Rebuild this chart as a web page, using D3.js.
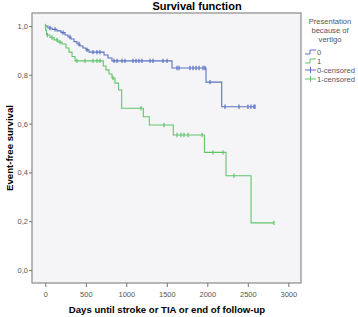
<!DOCTYPE html>
<html>
  <head>
    <title>Survival function</title>
    <style>
      body, html { margin: 0; padding: 0; background: #fff; }
      svg { display: block; font-family: Arial, "Liberation Sans", sans-serif; }
    </style>
  </head>
  <body>
    <svg id="svg" width="358" height="317"></svg>
    <script src="https://cdn.jsdelivr.net/npm/d3@7"></script>
    <script>
      // group 0 (no vertigo): event times (days) and survival after each step
      const blueTimes = [0, 33, 83, 144, 194, 243, 280, 317, 354, 391, 428, 465, 502, 540, 725, 774, 823, 1564, 1984, 2178];
      const blueSurv = [1.0, 0.992, 0.986, 0.98, 0.973, 0.963, 0.955, 0.947, 0.936, 0.926, 0.918, 0.91, 0.902, 0.893, 0.881, 0.869, 0.857, 0.828, 0.770, 0.669];
      const blueEnd = 2589;
      const blueCensored = [58, 120, 219, 305, 416, 515, 589, 638, 675, 848, 886, 947, 984, 1083, 1120, 1157, 1194, 1293, 1330, 1453, 1503, 1626, 1651, 1786, 1824, 1861, 1898, 1947, 1972, 2033, 2219, 2391, 2502, 2539, 2576, 2589];

      // group 1 (vertigo)
      const greenTimes = [0, 6, 15, 58, 107, 157, 206, 256, 293, 330, 367, 716, 749, 786, 823, 860, 904, 943, 1210, 1284, 1580, 1965, 2231, 2540];
      const greenSurv = [1.0, 0.982, 0.963, 0.953, 0.943, 0.934, 0.926, 0.91, 0.893, 0.875, 0.857, 0.836, 0.82, 0.803, 0.787, 0.766, 0.738, 0.663, 0.628, 0.594, 0.553, 0.482, 0.386, 0.193];
      const greenEnd = 2823;
      const greenCensored = [2, 27, 83, 144, 181, 391, 490, 589, 638, 675, 836, 1181, 1465, 1626, 1675, 1712, 1762, 1935, 2070, 2194, 2330, 2823];

      const xTicks = [0, 500, 1000, 1500, 2000, 2500, 3000];
      const yTicks = [0, 0.2, 0.4, 0.6, 0.8, 1.0];
      const legendTitle = ['Presentation', 'because of', 'vertigo'];
      const legendItems = ['0', '1', '0-censored', '1-censored'];

      const blue = '#5a72c2';
      const green = '#62c46c';

      const svg = d3.select('#svg');
      const frame = { left: 32, right: 301, top: 13, bottom: 283 };

      const x = d3.scaleLinear().domain([0, 3000]).range([45.3, 288.3]);
      const y = d3.scaleLinear().domain([0, 1]).range([270, 26]);

      // plot background + frame
      svg.append('rect')
        .attr('x', frame.left).attr('y', frame.top)
        .attr('width', frame.right - frame.left).attr('height', frame.bottom - frame.top)
        .attr('fill', '#f5f5f8')
        .attr('stroke', '#8a8a8a')
        .attr('stroke-width', 1.2);

      // axes
      const xAxis = d3.axisBottom(x).tickValues(xTicks).tickSize(4).tickFormat(d3.format('d'));
      svg.append('g')
        .attr('transform', `translate(0,${frame.bottom})`)
        .call(xAxis)
        .call(g => g.select('.domain').remove())
        .call(g => g.selectAll('line').attr('stroke', '#777'))
        .call(g => g.selectAll('text').attr('fill', '#555').attr('font-size', 7.5).attr('dy', '0.9em'));

      const yAxis = d3.axisLeft(y).tickValues(yTicks).tickSize(3)
        .tickFormat(d => d3.format('.1f')(d).replace('.', ','));
      svg.append('g')
        .attr('transform', `translate(${frame.left},0)`)
        .call(yAxis)
        .call(g => g.select('.domain').remove())
        .call(g => g.selectAll('line').attr('stroke', '#777'))
        .call(g => g.selectAll('text').attr('fill', '#555').attr('font-size', 7.5).attr('x', -4));

      // titles
      svg.append('text')
        .attr('x', 197).attr('y', 9.5)
        .attr('text-anchor', 'middle')
        .attr('font-size', 11).attr('font-weight', 'bold')
        .text('Survival function');

      svg.append('text')
        .attr('x', 167).attr('y', 312.5)
        .attr('text-anchor', 'middle')
        .attr('font-size', 9.6).attr('font-weight', 'bold')
        .text('Days until stroke or TIA or end of follow-up');

      svg.append('text')
        .attr('transform', 'translate(12.5,148) rotate(-90)')
        .attr('text-anchor', 'middle')
        .attr('font-size', 9.6).attr('font-weight', 'bold')
        .text('Event-free survival');

      // step curves
      const line = d3.line()
        .x(d => x(d[0]))
        .y(d => y(d[1]))
        .curve(d3.curveStepAfter);

      function stepPoints(times, surv, end) {
        const pts = times.map((t, i) => [t, surv[i]]);
        pts.push([end, surv[surv.length - 1]]);
        return pts;
      }

      function survAt(times, surv, t) {
        const i = d3.bisectRight(times, t) - 1;
        return surv[Math.max(0, i)];
      }

      const groups = [
        { times: blueTimes, surv: blueSurv, end: blueEnd, cens: blueCensored, color: blue },
        { times: greenTimes, surv: greenSurv, end: greenEnd, cens: greenCensored, color: green }
      ];

      groups.forEach(g => {
        svg.append('path')
          .attr('d', line(stepPoints(g.times, g.surv, g.end)))
          .attr('fill', 'none')
          .attr('stroke', g.color)
          .attr('stroke-width', 1.1);

        svg.append('g')
          .selectAll('line')
          .data(g.cens)
          .join('line')
          .attr('x1', d => x(d)).attr('x2', d => x(d))
          .attr('y1', d => y(survAt(g.times, g.surv, d)) - 2.2)
          .attr('y2', d => y(survAt(g.times, g.surv, d)) + 2.2)
          .attr('stroke', g.color)
          .attr('stroke-width', 1.2);
      });

      // legend
      const legend = svg.append('g').attr('font-size', 7.6).attr('fill', '#555');
      legend.selectAll('text.ttl')
        .data(legendTitle)
        .join('text')
        .attr('class', 'ttl')
        .attr('x', 330)
        .attr('y', (d, i) => 24 + i * 9)
        .attr('text-anchor', 'middle')
        .text(d => d);

      const itemY = i => 52 + i * 9;
      legendItems.forEach((label, i) => {
        const c = i % 2 === 0 ? blue : green;
        const cy = itemY(i);
        if (i < 2) {
          legend.append('path')
            .attr('d', `M305,${cy + 2}H310V${cy - 2}H316`)
            .attr('fill', 'none')
            .attr('stroke', c)
            .attr('stroke-width', 1);
        } else {
          legend.append('path')
            .attr('d', `M305,${cy}H316M310.5,${cy - 3}V${cy + 3}`)
            .attr('fill', 'none')
            .attr('stroke', c)
            .attr('stroke-width', 1);
        }
        legend.append('text')
          .attr('x', 317)
          .attr('y', cy + 2.7)
          .text(label);
      });
    </script>
  </body>
</html>
